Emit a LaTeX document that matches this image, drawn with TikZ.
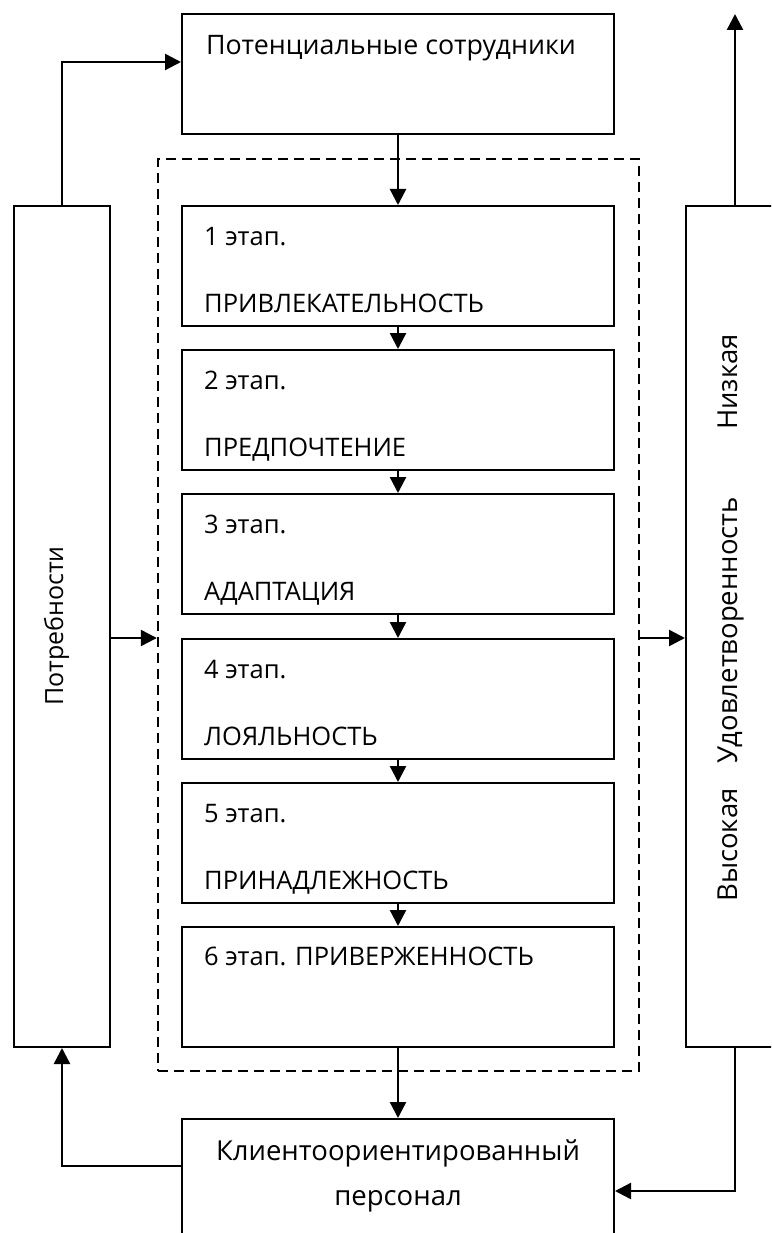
\documentclass[tikz,border=0pt]{standalone}
\usepackage{fontspec}
\setmainfont{Open Sans}
\usetikzlibrary{arrows.meta}
\tikzset{
  box/.style={draw, line width=2pt, rectangle, inner sep=0pt},
  stagebox/.style={box, minimum width=432pt, minimum height=120pt},
  lbl/.style={anchor=base west, inner sep=0pt, font=\fontsize{25.5}{30}\selectfont},
  clbl/.style={anchor=base, inner sep=0pt, font=\fontsize{27.5}{32}\selectfont},
  conn/.style={line width=2.4pt, -{Triangle[length=16pt,width=16pt]}},
  dashbox/.style={draw, line width=2.4pt, dash pattern=on 10pt off 6pt}
}
\begin{document}
\begin{tikzpicture}[x=1pt,y=-1pt]
\useasboundingbox (0,0) rectangle (771,1233);
\clip (0,0) rectangle (771,1233);
% dashed frame
\node[dashbox, minimum width=481pt, minimum height=912pt, inner sep=0pt] (frame) at (398.5,615) {};
% top box
\node[box, minimum width=432pt, minimum height=120pt] (top) at (398,74) {};
\node[clbl, font=\fontsize{26.8}{31}\selectfont] (toptxt) at (391,55) {Потенциальные сотрудники};
% stages
\node[stagebox] (s1) at (398,266) {};
\node[stagebox] (s2) at (398,410) {};
\node[stagebox] (s3) at (398,554) {};
\node[stagebox] (s4) at (398,699) {};
\node[stagebox] (s5) at (398,843) {};
\node[stagebox] (s6) at (398,987) {};
\node[lbl] (t1a) at (204,245) {1 этап.};
\node[lbl] (t1b) at (204,312) {ПРИВЛЕКАТЕЛЬНОСТЬ};
\node[lbl] (t2a) at (204,389) {2 этап.};
\node[lbl] (t2b) at (204,456) {ПРЕДПОЧТЕНИЕ};
\node[lbl] (t3a) at (204,533) {3 этап.};
\node[lbl] (t3b) at (204,600) {АДАПТАЦИЯ};
\node[lbl] (t4a) at (204,678) {4 этап.};
\node[lbl] (t4b) at (204,745) {ЛОЯЛЬНОСТЬ};
\node[lbl] (t5a) at (204,822) {5 этап.};
\node[lbl] (t5b) at (204,889) {ПРИНАДЛЕЖНОСТЬ};
\node[lbl] (t6a) at (204,965) {6 этап. ПРИВЕРЖЕННОСТЬ};
% left box
\node[box, minimum width=96pt, minimum height=841pt] (need) at (62,626.5) {};
\node[clbl, rotate=90, font=\fontsize{25}{30}\selectfont] (needtxt) at (63,626) {Потребности};
% right box (cut by page edge)
\node[box, minimum width=130pt, minimum height=841pt] (sat) at (751,626.5) {};
\node[clbl, rotate=90] (low) at (737,382) {Низкая};
\node[clbl, rotate=90] (sattxt) at (737,630) {Удовлетворенность};
\node[clbl, rotate=90] (high) at (737,845) {Высокая};
% bottom box
\node[box, minimum width=432pt, minimum height=150pt, anchor=north] (bot) at (398,1118) {};
\node[clbl] (bota) at (398,1160) {Клиентоориентированный};
\node[clbl] (botb) at (398,1205) {персонал};
% coordinates
\coordinate (upstart) at (735,206);
\coordinate (upend) at (735,14);
\coordinate (downstart) at (735,1047);
\coordinate (lc1) at (62,62);
\coordinate (lc2) at (62,1166);
\coordinate (rc1) at (735,1191);
\coordinate (mid) at (0,638);
% connectors
\draw[conn] (top.south) -- (s1.north);
\draw[conn] (s1.south) -- (s2.north);
\draw[conn] (s2.south) -- (s3.north);
\draw[conn] (s3.south) -- (s4.north);
\draw[conn] (s4.south) -- (s5.north);
\draw[conn] (s5.south) -- (s6.north);
\draw[conn] (s6.south) -- (bot.north);
\draw[conn] (need.north) |- (top.west |- lc1);
\draw[conn] (upstart) -- (upend);
\draw[conn] (need.east |- mid) -- (frame.west |- mid);
\draw[conn] (frame.east |- mid) -- (sat.west |- mid);
\draw[conn] (bot.west |- lc2) -| (need.south);
\draw[conn] (downstart) |- (bot.east |- rc1);
\end{tikzpicture}
\end{document}
